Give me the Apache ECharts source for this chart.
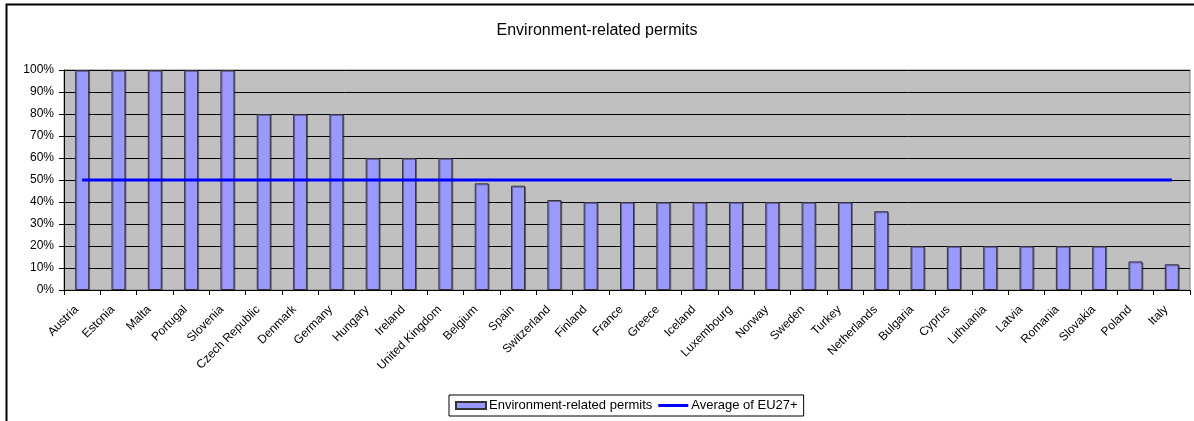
<!DOCTYPE html>
<html>
<head>
<meta charset="utf-8">
<script src="https://cdn.jsdelivr.net/npm/echarts@6/dist/echarts.min.js"></script>
<style>
html, body { margin: 0; padding: 0; background: #fff; }
#chart { width: 1194px; height: 421px; }
</style>
</head>
<body>
<div id="chart"></div>
<script>
// countries, sorted as in the source chart
var countries = ['Austria', 'Estonia', 'Malta', 'Portugal', 'Slovenia', 'Czech Republic', 'Denmark', 'Germany',
	'Hungary', 'Ireland', 'United Kingdom', 'Belgium', 'Spain', 'Switzerland', 'Finland', 'France', 'Greece',
	'Iceland', 'Luxembourg', 'Norway', 'Sweden', 'Turkey', 'Netherlands', 'Bulgaria', 'Cyprus', 'Lithuania',
	'Latvia', 'Romania', 'Slovakia', 'Poland', 'Italy']
// share of environment-related permits (%)
var permits = [100, 100, 100, 100, 100, 80, 80, 80, 60, 60, 60, 48.5, 47.4, 40.9, 40, 40, 40,
	40, 40, 40, 40, 40, 35.8, 20, 20, 20, 20, 20, 20, 13, 11.7]
// EU27+ average (%)
var euAverage = [50, 50, 50, 50, 50, 50, 50, 50, 50, 50, 50, 50, 50, 50, 50, 50, 50,
	50, 50, 50, 50, 50, 50, 50, 50, 50, 50, 50, 50, 50, 50]
var yTicks = [0, 10, 20, 30, 40, 50, 60, 70, 80, 90, 100]

var font = 'Liberation Sans, Arial, sans-serif'
var myChart = echarts.init(document.getElementById('chart'))
myChart.setOption({
	animation: false,
	textStyle: { fontFamily: font, color: '#000' },
	graphic: [{
		type: 'rect',
		shape: { x: 6.5, y: 4.5, width: 1200, height: 440 },
		style: { fill: 'none', stroke: '#000', lineWidth: 2 },
		silent: true
	}],
	title: {
		text: 'Environment-related permits',
		left: 'center',
		top: 18,
		textStyle: { fontFamily: font, fontSize: 16, fontWeight: 'normal', color: '#000' }
	},
	legend: {
		left: 449,
		top: 395,
		padding: [4, 6, 4, 6],
		itemGap: 6,
		itemWidth: 30,
		itemHeight: 7,
		borderColor: '#000',
		borderWidth: 1,
		textStyle: { fontFamily: font, fontSize: 13, color: '#000', padding: [0, 0, 0, -2] },
		data: [
			{ name: 'Environment-related permits', icon: 'rect' },
			{ name: 'Average of EU27+', icon: 'path://M0,0H30V3H0Z' }
		]
	},
	grid: {
		left: 64,
		right: 4,
		top: 70,
		bottom: 131,
		show: true,
		backgroundColor: '#C0C0C0',
		borderColor: '#808080',
		borderWidth: 1
	},
	xAxis: {
		type: 'category',
		data: countries,
		boundaryGap: true,
		axisLine: { lineStyle: { color: '#000', width: 1 } },
		axisTick: { show: true, length: 5, lineStyle: { color: '#000' } },
		axisLabel: {
			interval: 0,
			rotate: 45,
			fontFamily: font,
			fontSize: 12,
			color: '#000',
			margin: 12,
			padding: [0, 8, 0, 0]
		},
		splitLine: { show: false }
	},
	yAxis: {
		type: 'value',
		min: yTicks[0],
		max: yTicks[yTicks.length - 1],
		interval: 10,
		axisLine: { show: true, lineStyle: { color: '#000' } },
		axisTick: { show: true, length: 5, lineStyle: { color: '#000' } },
		axisLabel: {
			formatter: '{value}%',
			fontFamily: font,
			fontSize: 12,
			color: '#000',
			margin: 10
		},
		splitLine: { show: true, lineStyle: { color: '#000', width: 1 } }
	},
	series: [{
		name: 'Environment-related permits',
		type: 'bar',
		data: permits,
		barWidth: 14,
		itemStyle: {
			color: '#9999FF',
			borderColor: '#333',
			borderWidth: 1,
			shadowColor: 'rgba(0,0,0,0.35)',
			shadowOffsetX: 1,
			shadowOffsetY: 1
		}
	}, {
		name: 'Average of EU27+',
		type: 'line',
		data: euAverage,
		symbol: 'none',
		lineStyle: { color: '#0000FF', width: 3 },
		itemStyle: { color: '#0000FF' }
	}]
})
</script>
</body>
</html>
